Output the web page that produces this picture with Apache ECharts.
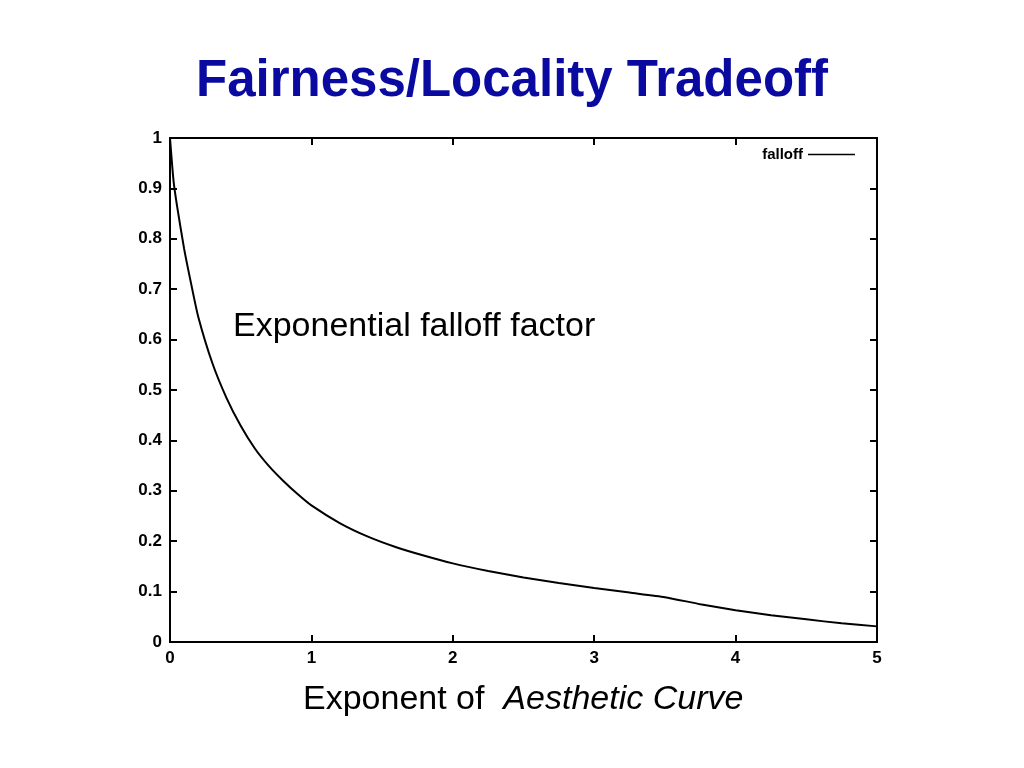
<!DOCTYPE html>
<html>
<head>
<meta charset="utf-8">
<script src="https://cdn.jsdelivr.net/npm/echarts@6/dist/echarts.min.js"></script>
<style>html,body{margin:0;padding:0;background:#fff;}#chart{width:1024px;height:768px;}</style>
</head>
<body>
<div id="chart"></div>
<script>
var exponents = [0, 0.025, 0.05, 0.1, 0.15, 0.2, 0.3, 0.4, 0.5, 0.6, 0.7, 0.8, 0.9, 1.0, 1.2, 1.4, 1.6, 1.8, 2.0, 2.25, 2.5, 2.75, 3.0, 3.25, 3.5, 3.75, 4.0, 4.25, 4.5, 4.75, 5.0];
var falloff   = [1.0, 0.915, 0.865, 0.78, 0.71, 0.645, 0.553, 0.484, 0.429, 0.384, 0.349, 0.32, 0.294, 0.271, 0.236, 0.209, 0.188, 0.171, 0.156, 0.141, 0.128, 0.117, 0.107, 0.098, 0.089, 0.075, 0.063, 0.053, 0.045, 0.037, 0.031];
var seriesName = 'falloff';
var titleText = 'Fairness/Locality Tradeoff';
var annotation = 'Exponential falloff factor';
var xNamePlain = 'Exponent of  ';
var xNameItalic = 'Aesthetic Curve';

var points = exponents.map(function (x, i) { return [x, falloff[i]]; });
var font = 'Liberation Sans, Arial, Helvetica, sans-serif';
var chart = echarts.init(document.getElementById('chart'));
var tick = { show: true, inside: true, length: 7, lineStyle: { color: '#000', width: 2 } };
var axLine = { show: true, onZero: false, lineStyle: { color: '#000', width: 2 } };
chart.setOption({
  animation: false,
  backgroundColor: '#fff',
  title: {
    text: titleText, left: 'center', top: 51,
    textStyle: { color: '#0a0aa0', fontSize: 51, fontWeight: 'bold', fontFamily: font }
  },
  legend: {
    right: 164, top: 142, align: 'right', icon: 'rect', itemWidth: 47, itemHeight: 1.5, itemGap: 5,
    itemStyle: { color: '#000' },
    textStyle: { fontSize: 15, fontWeight: 'bold', color: '#000', fontFamily: font },
    data: [seriesName]
  },
  grid: { left: 170, right: 147, top: 138, bottom: 126, show: true, borderColor: '#000', borderWidth: 2 },
  xAxis: [{
    type: 'value', min: 0, max: 5, interval: 1, position: 'bottom',
    axisLine: axLine, axisTick: tick, splitLine: { show: false },
    axisLabel: { color: '#000', fontSize: 17, fontWeight: 'bold', fontFamily: font, margin: 8 }
  }, {
    type: 'value', min: 0, max: 5, interval: 1, position: 'top',
    axisLine: axLine, axisTick: tick, splitLine: { show: false }, axisLabel: { show: false }
  }],
  yAxis: [{
    type: 'value', min: 0, max: 1, interval: 0.1, position: 'left',
    axisLine: axLine, axisTick: tick, splitLine: { show: false },
    axisLabel: { color: '#000', fontSize: 17, fontWeight: 'bold', fontFamily: font, margin: 8,
      formatter: function (v) { return String(+v.toFixed(1)); } }
  }, {
    type: 'value', min: 0, max: 1, interval: 0.1, position: 'right',
    axisLine: axLine, axisTick: tick, splitLine: { show: false }, axisLabel: { show: false }
  }],
  series: [{
    name: seriesName, type: 'line', data: points, symbol: 'none', smooth: 0.2,
    xAxisIndex: 0, yAxisIndex: 0,
    lineStyle: { color: '#000', width: 2 }, itemStyle: { color: '#000' }
  }],
  graphic: [{
    type: 'text', left: 233, top: 310,
    style: { text: annotation, fontSize: 34, fontFamily: font, fill: '#000' }
  }, {
    type: 'text', left: 303, top: 683,
    style: {
      text: '{a|' + xNamePlain + '}{b|' + xNameItalic + '}',
      rich: {
        a: { fontSize: 34, fontFamily: font, fill: '#000', color: '#000' },
        b: { fontSize: 34, fontFamily: font, fontStyle: 'italic', fill: '#000', color: '#000' }
      }
    }
  }]
});
</script>
</body>
</html>
